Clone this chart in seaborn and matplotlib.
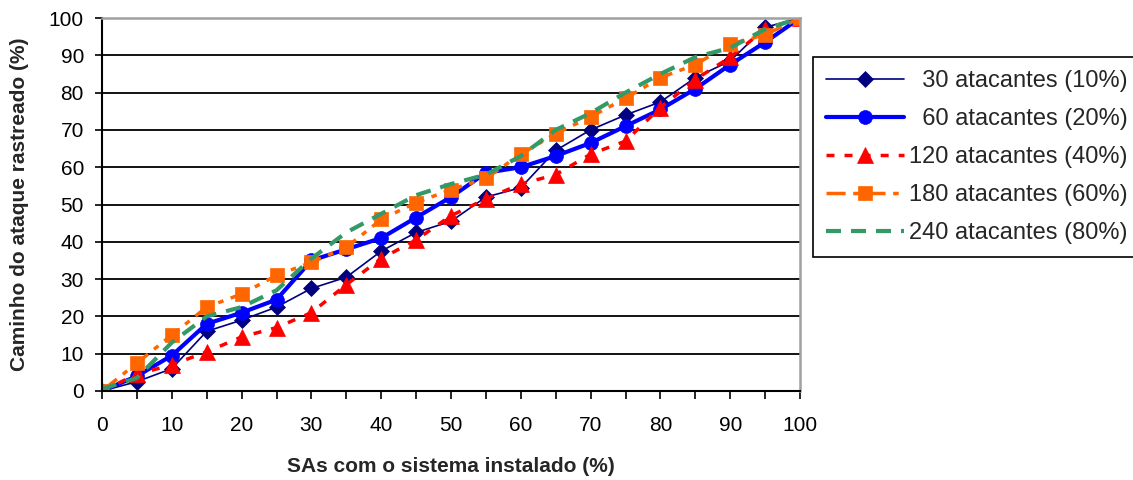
import pandas as pd
import matplotlib
matplotlib.use('Agg')
import matplotlib.pyplot as plt
import seaborn as sns

# Data
sas_pct = [0, 5, 10, 15, 20, 25, 30, 35, 40, 45, 50, 55, 60, 65, 70, 75, 80, 85, 90, 95, 100]
at_30 = [0, 2.5, 6, 16, 19, 22.5, 27.5, 30.5, 37.5, 42.5, 45.5, 52, 54.5, 64.5, 70, 74, 77.5, 84, 88.5, 97.5, 100]
at_60 = [0, 4, 9.5, 18, 21, 24.5, 35, 38, 41, 46.5, 52, 58.5, 60, 63, 66.5, 71, 75.5, 81, 87.5, 93.5, 100]
at_120 = [0, 4.5, 7, 10.5, 14.5, 17, 21, 28.5, 35.5, 40.5, 47, 51.5, 55.5, 58, 63.5, 67, 76, 83.5, 89.5, 97, 100]
at_180 = [0, 7.5, 15, 22.5, 26, 31, 34.5, 38.5, 46, 50.5, 54, 57, 63.5, 69, 73.5, 78.5, 84, 87.5, 93, 95.5, 100]
at_240 = [0.5, 3.5, 13, 20, 22.5, 27, 35.5, 42.5, 47.5, 52.5, 55.5, 58, 63, 70, 74.5, 80, 85, 89.5, 92, 97, 100]

labels = ['  30 atacantes (10%)', '  60 atacantes (20%)', '120 atacantes (40%)',
          '180 atacantes (60%)', '240 atacantes (80%)']
values = [at_30, at_60, at_120, at_180, at_240]

# line styles for each series (Excel-like)
styles = [
    dict(color='#000080', lw=1.2, marker='D', ms=8, ls='-'),
    dict(color='#0000FF', lw=3.0, marker='o', ms=10, ls='-'),
    dict(color='#FF0000', lw=2.5, marker='^', ms=12, ls=(0, (2.3, 2.9))),
    dict(color='#FF6600', lw=2.5, marker='s', ms=10, ls=(0, (5.5, 2.2, 1.6, 2.2))),
    dict(color='#339966', lw=3.0, marker=None, ms=0, ls=(0, (3.6, 2.4))),
]

sns.set_theme(style='white')
plt.rcParams['font.family'] = ['Liberation Sans', 'DejaVu Sans']

fig = plt.figure(figsize=(11.33, 4.8), dpi=100)
ax = fig.add_axes([102 / 1133, 1 - 391 / 480, 698 / 1133, 373 / 480])

for lab, vals, st in zip(labels, values, styles):
    df = pd.DataFrame({'x': sas_pct, 'y': vals})
    sns.lineplot(data=df, x='x', y='y', ax=ax, color=st['color'], linewidth=st['lw'],
                 linestyle=st['ls'], marker=st['marker'], markersize=st['ms'],
                 markeredgecolor=st['color'], markeredgewidth=0.5, label=lab)

ax.set_xlim(0, 100)
ax.set_ylim(0, 100)
ax.set_xticks(range(0, 101, 10))
ax.set_xticks(range(0, 101, 5), minor=True)
ax.set_yticks(range(0, 101, 10))
ax.tick_params(axis='both', which='both', direction='out', colors='black', labelsize=15)
ax.tick_params(axis='x', which='both', length=6, width=1.2, bottom=True, pad=12)
ax.tick_params(axis='y', length=5, width=1.2, left=True, pad=8)

for y in range(10, 100, 10):
    ax.axhline(y, color='black', lw=1.3, zorder=0.5)

for side in ['left', 'bottom']:
    ax.spines[side].set_color('black')
    ax.spines[side].set_linewidth(1.5)
for side in ['top', 'right']:
    ax.spines[side].set_color('#a0a0a0')
    ax.spines[side].set_linewidth(1.8)

ax.set_xlabel('SAs com o sistema instalado (%)', fontsize=15, fontweight='bold', labelpad=16)
ax.set_ylabel('Caminho do ataque rastreado (%)', fontsize=15, fontweight='bold', labelpad=14)

leg = ax.legend(loc='upper left', bbox_to_anchor=(813 / 1133, 1 - 57 / 480),
                bbox_transform=fig.transFigure, fontsize=17, frameon=True, fancybox=False,
                edgecolor='black', framealpha=1, handlelength=3.3, handletextpad=0.2,
                labelspacing=0.68, borderpad=0.55, borderaxespad=0)
leg.get_frame().set_linewidth(1.2)

fig.savefig('out.png', dpi=100)
